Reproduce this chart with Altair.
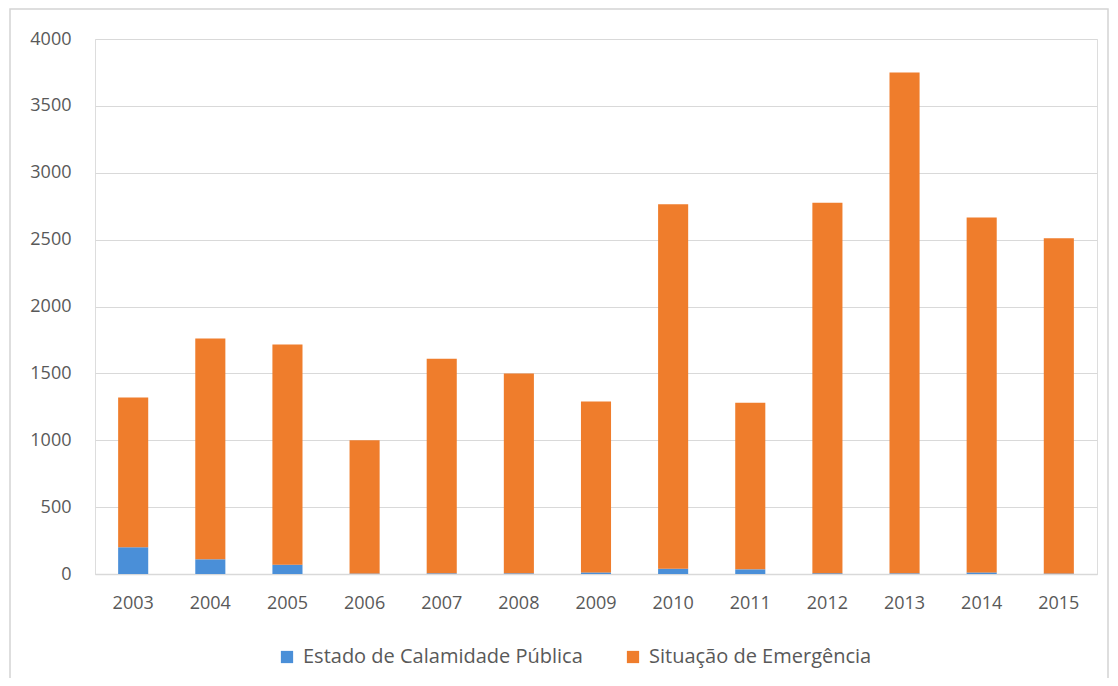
import altair as alt
import pandas as pd

years = ["2003", "2004", "2005", "2006", "2007", "2008", "2009",
         "2010", "2011", "2012", "2013", "2014", "2015"]
calamidade = [200, 110, 70, 4, 5, 5, 12, 40, 35, 6, 5, 12, 4]
totais = [1320, 1760, 1715, 1000, 1610, 1500, 1290, 2765, 1280, 2775, 3750, 2665, 2510]
series = ["Estado de Calamidade Pública", "Situação de Emergência"]
colors = ["#4A8FD8", "#EF7D2C"]

rows = []
for y, c, t in zip(years, calamidade, totais):
    rows.append({"ano": y, "serie": series[0], "valor": c, "ordem": 0})
    rows.append({"ano": y, "serie": series[1], "valor": t - c, "ordem": 1})
df = pd.DataFrame(rows)

FONT = "Open Sans"
W, H = 1002, 535

bars = alt.Chart(df).mark_bar().encode(
    x=alt.X("ano:N", sort=years, title=None,
            scale=alt.Scale(paddingInner=0.61, paddingOuter=0.3),
            axis=alt.Axis(labelAngle=0, labelFontSize=18, labelFont=FONT,
                          labelColor="#595959", labelPadding=20, ticks=False,
                          domain=True, domainColor="#d9d9d9", domainWidth=1.5,
                          grid=False)),
    y=alt.Y("valor:Q", stack="zero", title=None,
            scale=alt.Scale(domain=[0, 4000], nice=False),
            axis=alt.Axis(values=[0, 500, 1000, 1500, 2000, 2500, 3000, 3500, 4000],
                          format="d",
                          labelFontSize=18, labelFont=FONT, labelColor="#595959",
                          labelPadding=24, ticks=False, domain=False,
                          gridColor="#d9d9d9", gridWidth=1.2)),
    color=alt.Color("serie:N", sort=series,
                    scale=alt.Scale(domain=series, range=colors),
                    legend=alt.Legend(title=None, orient="none", direction="horizontal",
                                      legendX=182, legendY=608,
                                      symbolType="square", symbolSize=150,
                                      symbolStrokeWidth=0,
                                      labelFontSize=20, labelFont=FONT,
                                      labelColor="#595959", labelOffset=6,
                                      columnPadding=40, labelLimit=400)),
    order=alt.Order("ordem:Q", sort="ascending"),
)

frame = alt.Chart(pd.DataFrame({"k": [0]})).mark_rect(
    fill=None, stroke="#d4d4d4", strokeWidth=1.5, clip=False
).encode(
    x=alt.value(-85), x2=alt.value(1013), y=alt.value(-30), y2=alt.value(700)
)

chart = alt.layer(frame, bars).properties(
    width=W, height=H,
    autosize=alt.AutoSizeParams(type="none"),
    padding={"left": 87, "top": 31, "right": 13, "bottom": 104},
).configure_view(stroke=None).configure(background="white")

chart.save("out.html", embed_options={"renderer": "svg", "actions": False})
